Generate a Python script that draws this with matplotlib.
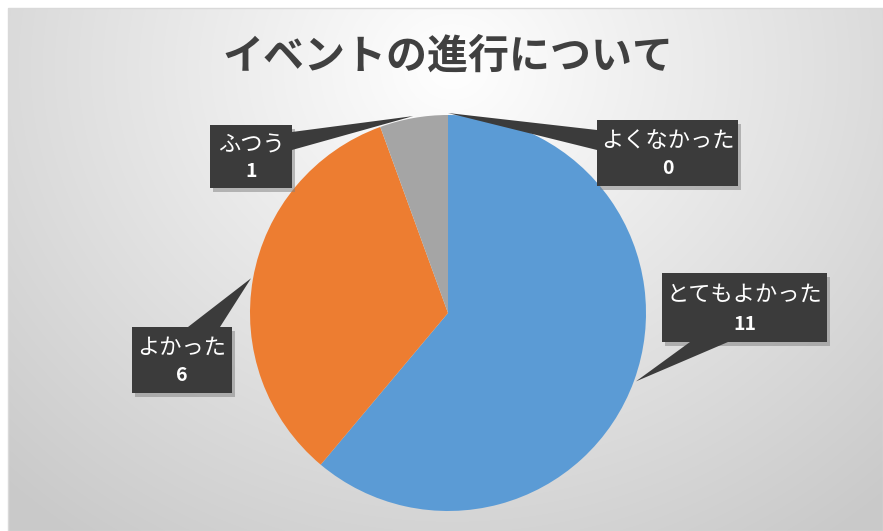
import numpy as np
import matplotlib.pyplot as plt
from matplotlib.patches import Rectangle, Polygon

plt.rcParams['font.family'] = ['Noto Sans CJK JP', 'DejaVu Sans']

# data
labels = ['とてもよかった', 'よかった', 'ふつう', 'よくなかった']
values = [11, 6, 1, 0]
colors = ['#5B9BD5', '#ED7D31', '#A5A5A5', '#FFC000']
title = 'イベントの進行について'

W, H = 883, 531
fig = plt.figure(figsize=(W / 100, H / 100), dpi=100)

# background panel with radial gradient
bg = fig.add_axes([0, 0, 1, 1])
bg.set_xlim(0, W)
bg.set_ylim(H, 0)
bg.axis('off')
yy, xx = np.mgrid[0:H, 0:W]
d = np.sqrt(((xx - 448) / 620.0) ** 2 + ((yy - 60) / 560.0) ** 2)
g = np.clip(1.0 - 0.2 * d, 0.79, 1.0)
img = np.dstack([g, g, g])
bg.imshow(img, extent=[8, W, H, 8], zorder=0)
bg.add_patch(Rectangle((8, 8), W - 8, H - 8, fill=False, ec='#d9d9d9', lw=1, zorder=1))

# pie
cx, cy, r = 448, 313, 198
pie_ax = fig.add_axes([(cx - r) / W, (H - cy - r) / H, 2 * r / W, 2 * r / H])
pie_ax.pie(values, colors=colors, startangle=90, counterclock=False,
           radius=1, wedgeprops=dict(linewidth=0))
pie_ax.set_xlim(-1, 1)
pie_ax.set_ylim(-1, 1)
pie_ax.set_aspect('equal')
pie_ax.axis('off')

fig.text(448 / W, 1 - 57 / H, title, ha='center', va='center',
         fontsize=29.5, fontweight='bold', color='#404040')

# callout overlay in pixel coordinates
ov = fig.add_axes([0, 0, 1, 1])
ov.set_xlim(0, W)
ov.set_ylim(H, 0)
ov.axis('off')
ov.patch.set_alpha(0)

# box (x0, y0, x1, y1) and pointer base per label
boxes = {
    'とてもよかった': ((662, 273, 827, 342), [(690, 342), (728, 342)]),
    'よかった': ((132, 327, 232, 393), [(188, 327), (220, 327)]),
    'ふつう': ((210, 125, 292, 188), [(292, 132), (292, 150)]),
    'よくなかった': ((597, 120, 738, 186), [(597, 130), (597, 150)]),
}

total = sum(values)
start = 90.0
for lab, val in zip(labels, values):
    span = 360.0 * val / total
    mid = np.deg2rad(start - span / 2)
    start -= span
    tip_x = cx + r * 1.01 * np.cos(mid)
    tip_y = cy - r * 1.01 * np.sin(mid)
    (x0, y0, x1, y1), base = boxes[lab]
    # shadow
    ov.add_patch(Rectangle((x0 + 3, y0 + 4), x1 - x0, y1 - y0, fc='#7f7f7f', ec='none', alpha=0.5, zorder=2))
    ov.add_patch(Polygon([base[0], (tip_x, tip_y), base[1]], closed=True, fc='#3b3b3b', ec='none', zorder=3))
    ov.add_patch(Rectangle((x0, y0), x1 - x0, y1 - y0, fc='#3b3b3b', ec='none', zorder=3))
    mx = (x0 + x1) / 2
    ov.text(mx, y0 + (y1 - y0) * 0.31, lab, ha='center', va='center',
            fontsize=16, color='white', zorder=4)
    ov.text(mx, y0 + (y1 - y0) * 0.74, str(val), ha='center', va='center',
            fontsize=14, fontweight='bold', color='white', zorder=4)

fig.savefig('out.png', dpi=100)
